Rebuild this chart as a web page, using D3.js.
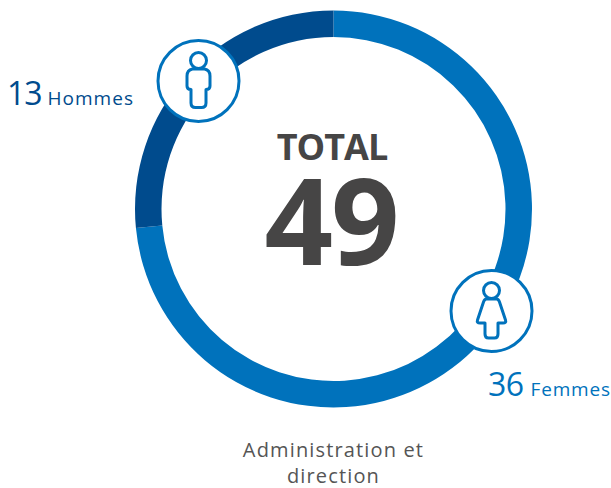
<!DOCTYPE html>
<html><head><meta charset="utf-8">
<script src="https://cdn.jsdelivr.net/npm/d3@7"></script>
<style>html,body{margin:0;padding:0;background:#fff}svg{display:block}text{font-family:"Open Sans",sans-serif}</style>
</head><body><div id="c"></div>
<script>
const categories = ["Femmes", "Hommes"];
const values = [36, 13];
const total = 49;
const colors = ["#0072BC", "#004B8D"];
const title = "Administration et";
const title2 = "direction";

const W = 611, H = 488, cx = 333.5, cy = 209, R = 198.5, r = 172;
const svg = d3.select("#c").append("svg").attr("width", W).attr("height", H);
const pie = d3.pie().sort(null).value(d => d)(values);
const arc = d3.arc().innerRadius(r).outerRadius(R);
svg.append("g").attr("transform", `translate(${cx},${cy})`)
  .selectAll("path").data(pie).join("path")
  .attr("d", arc).attr("fill", (d, i) => colors[i]);

function badge(x, y, stroke, inner) {
  const g = svg.append("g").attr("transform", `translate(${x},${y})`);
  g.append("circle").attr("r", 40.5).attr("fill", "#fff").attr("stroke", stroke).attr("stroke-width", 3);
  inner(g);
}
const ico = g => g.append("g").attr("fill", "none").attr("stroke", colors[0]).attr("stroke-width", 3).attr("stroke-linejoin", "round");
badge(198.5, 81, colors[0], g => {
  const s = ico(g);
  s.append("circle").attr("cx", 0).attr("cy", -20.5).attr("r", 8);
  s.append("path").attr("d", "M-6,-12 L6,-12 Q11.5,-11 11.5,-5 L11.5,5 Q11.5,8.5 7.5,8.5 L7.5,22 Q7.5,26.5 3,26.5 L-3,26.5 Q-7.5,26.5 -7.5,22 L-7.5,8.5 Q-11.5,8.5 -11.5,5 L-11.5,-5 Q-11.5,-11 -6,-12 Z");
});
badge(491.5, 311, colors[0], g => {
  const s = ico(g);
  s.append("circle").attr("cx", 0).attr("cy", -20.5).attr("r", 8);
  s.append("path").attr("d", "M-5,-12 L5,-12 Q7,-12 8,-9 L14,9 Q15,12 11.5,12 L6.5,12 L6.5,23 Q6.5,27 3,27 L-3,27 Q-6.5,27 -6.5,23 L-6.5,12 L-11.5,12 Q-15,12 -14,9 L-8,-9 Q-7,-12 -5,-12 Z");
});

const ink = "#464545";
svg.append("text").attr("x", 332).attr("y", 160).attr("text-anchor", "middle")
  .attr("font-size", 36).attr("font-weight", 700).attr("letter-spacing", -1).attr("fill", ink).text("TOTAL");
svg.append("text").attr("x", 331).attr("y", 265).attr("text-anchor", "middle")
  .attr("font-size", 120).attr("font-weight", 700).attr("letter-spacing", -2).attr("fill", ink).text(total);

const lab1 = svg.append("text").attr("x", 7).attr("y", 105).attr("fill", colors[1]);
lab1.append("tspan").attr("font-size", 32).attr("letter-spacing", -1).text(values[1]);
lab1.append("tspan").attr("dx", 6).attr("font-size", 19).attr("letter-spacing", 1).text(categories[1]);
const lab2 = svg.append("text").attr("x", 488).attr("y", 396).attr("fill", colors[0]);
lab2.append("tspan").attr("font-size", 32).attr("letter-spacing", -0.5).text(values[0]);
lab2.append("tspan").attr("dx", 7).attr("font-size", 19).attr("letter-spacing", 0.8).text(categories[0]);

const cap = { "text-anchor": "middle", "font-size": 20, "letter-spacing": 1.15, "fill": "#555" };
[[title, 457], [title2, 483]].forEach(([t, y]) => {
  const e = svg.append("text").attr("x", 333.5).attr("y", y).text(t);
  Object.entries(cap).forEach(([k, v]) => e.attr(k, v));
});
</script></body></html>
